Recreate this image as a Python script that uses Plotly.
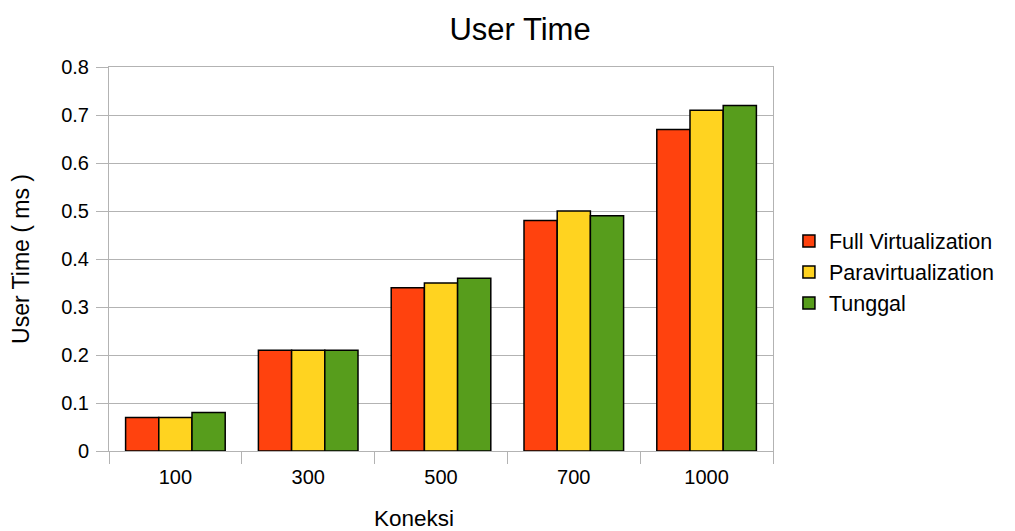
import plotly.graph_objects as go

categories = ["100", "300", "500", "700", "1000"]
full_virt = [0.07, 0.21, 0.34, 0.48, 0.67]
para_virt = [0.07, 0.21, 0.35, 0.50, 0.71]
tunggal = [0.08, 0.21, 0.36, 0.49, 0.72]

series = [
    ("Full Virtualization", full_virt, "#ff420e"),
    ("Paravirtualization", para_virt, "#ffd320"),
    ("Tunggal", tunggal, "#579d1c"),
]

fig = go.Figure()
for name, vals, color in series:
    fig.add_trace(go.Bar(
        x=categories, y=vals, name=name,
        marker=dict(color=color, line=dict(color="#000000", width=1.5)),
    ))

font_family = "Liberation Sans, Arial, sans-serif"
grid = "#b3b3b3"
# page body has an 8px default margin, so the figure is offset by 8px
fig.update_layout(
    width=1015, height=531,
    margin=dict(l=101, r=250, t=59, b=88),
    paper_bgcolor="white", plot_bgcolor="white",
    barmode="group", bargap=0.25, bargroupgap=0,
    font=dict(family=font_family, size=20, color="#000000"),
    title=dict(text="User Time", x=0.619, xref="paper", xanchor="center",
               y=0.96, yref="container", yanchor="middle",
               font=dict(size=31, family=font_family, color="#000000")),
    legend=dict(x=1.024, y=0.466, xanchor="left", yanchor="middle",
                font=dict(size=21.5), tracegroupgap=0),
    xaxis=dict(
        type="category", tickson="boundaries", ticks="outside", ticklen=12,
        tickcolor=grid, showline=True, linecolor=grid, linewidth=1,
        mirror=True, showgrid=False, tickfont=dict(size=20),
        ticklabelstandoff=8,
    ),
    yaxis=dict(
        range=[0, 0.8], dtick=0.1, ticks="outside", ticklen=12,
        tickcolor=grid, showline=True, linecolor=grid, linewidth=1,
        mirror=True, showgrid=True, gridcolor=grid, gridwidth=1,
        zeroline=False, tickfont=dict(size=20), ticklabelstandoff=3,
        title=dict(text="User Time ( ms )", standoff=26, font=dict(size=23)),
    ),
)

fig.add_annotation(text="Koneksi", x=0.459, y=-0.1745, xref="paper", yref="paper",
                   xanchor="center", yanchor="middle", showarrow=False,
                   font=dict(size=22.5, family=font_family, color="#000000"))

fig.write_html("out.html")
